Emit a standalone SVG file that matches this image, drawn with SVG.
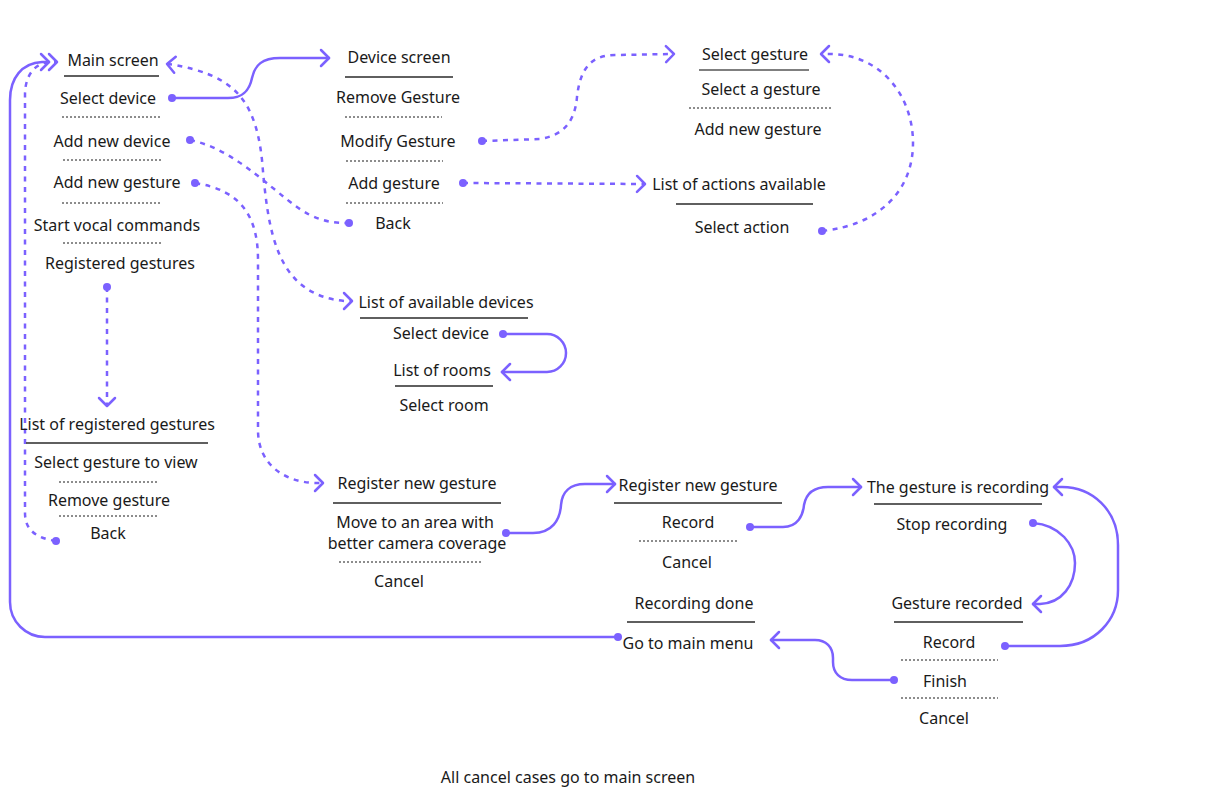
<svg xmlns="http://www.w3.org/2000/svg" width="1207" height="805" viewBox="0 0 1207 805">
<style>
  text { font-family: "Noto Sans", "Open Sans", sans-serif; font-size: 16px; fill: #1a1a1a; text-anchor: middle; }
  .hd { stroke: #2a2a2a; stroke-width: 1.5; fill: none; }
  .hdg { stroke: #555; stroke-width: 1.5; fill: none; }
  .dv { stroke: #1a1a1a; stroke-width: 1; stroke-dasharray: 2 2; fill: none; }
  .c { stroke: #7B61FF; stroke-width: 2.5; fill: none; stroke-linecap: round; stroke-linejoin: round; }
  .d { stroke-dasharray: 5 5.5; stroke-linecap: butt; }
  .s { marker-start: url(#dot); }
  .e { marker-end: url(#arr); }
  .ed { marker-end: url(#dot); }
</style>
<defs>
  <marker id="arr" viewBox="-12 -12 24 24" refX="0" refY="0" markerWidth="24" markerHeight="24" markerUnits="userSpaceOnUse" orient="auto-start-reverse">
    <path d="M-8,-8 L0,0 L-8,8" fill="none" stroke="#7B61FF" stroke-width="2.5" stroke-linecap="round" stroke-linejoin="round"/>
  </marker>
  <marker id="dot" viewBox="-5 -5 10 10" refX="0" refY="0" markerWidth="10" markerHeight="10" markerUnits="userSpaceOnUse">
    <circle cx="0" cy="0" r="4" fill="#7B61FF"/>
  </marker>
</defs>
<rect width="1207" height="805" fill="#ffffff"/>

<g id="connectors">
  <path class="c s e" d="M172,98 L228,98 C245,98 250,88 252,78 C255,65 262,58 280,58 L329,58"/>
  <path class="c d e" style="marker-start:url(#arr)" d="M167,64 L172,64.5 C230,75 255,95 262,160 C268,230 275,295 345,301 L352,301"/>
  <path class="c d s ed" d="M190,140 C240,150 280,200 310,215 C325,222 335,223 349,223"/>
  <path class="c d s e" d="M195,183 C240,190 258,215 258,260 L258,430 C258,465 285,482 315,483 L323,483"/>
  <path class="c d s e" d="M107,287 L107,406"/>
  <path class="c d s e" d="M56,541 C36,538 25,530 25,513 L25,95 C25,75 35,63 50,62 L57,62"/>
  <path class="c s e" d="M618,637 L45,637 A35,35 0 0 1 10,602 L10,100 C10,78 22,63 42,62 L49,62"/>
  <path class="c d s e" d="M482,141 L540,139 C565,135 575,120 577,97 C580,70 590,55 615,55 L674,54"/>
  <path class="c d s e" d="M463,183 L645,184"/>
  <path class="c d s e" d="M822,231 C880,225 913,190 913,143 C913,95 880,54 830,54 L821,54"/>
  <path class="c s e" d="M503,334 L547,334 A19,19 0 0 1 547,372 L502,372"/>
  <path class="c s e" d="M506,533 L533,533 C552,533 560,520 561,505 C562,492 570,484 585,484 L615,484"/>
  <path class="c s e" d="M750,527 L783,527 C798,527 803,515 804,505 C806,494 813,487 828,487 L861,487"/>
  <path class="c s e" d="M1033,523 C1060,525 1075,545 1075,563 C1075,585 1062,603 1040,604 L1033,604"/>
  <path class="c s e" d="M1005,646 L1060,646 C1095,646 1118,620 1118,590 L1118,545 C1118,510 1092,487 1062,487 L1054,487"/>
  <path class="c s e" d="M894,680 L852,680 C840,680 833,673 833,662 L833,658 C833,647 826,640 815,640 L771,640"/>
</g>

<g id="main-screen">
  <text x="113" y="66">Main screen</text>
  <line class="hd" x1="64" y1="76" x2="159" y2="76"/>
  <text x="108" y="104">Select device</text>
  <line class="dv" x1="62" y1="117" x2="160" y2="117"/>
  <text x="112" y="147">Add new device</text>
  <line class="dv" x1="63" y1="160" x2="161" y2="160"/>
  <text x="117" y="188">Add new gesture</text>
  <line class="dv" x1="62" y1="203" x2="160" y2="203"/>
  <text x="117" y="231">Start vocal commands</text>
  <line class="dv" x1="63" y1="243" x2="161" y2="243"/>
  <text x="120" y="269">Registered gestures</text>
</g>

<g id="registered-gestures">
  <text x="117" y="430">List of registered gestures</text>
  <line class="hd" x1="26" y1="443" x2="208" y2="443"/>
  <text x="116" y="468">Select gesture to view</text>
  <line class="dv" x1="59" y1="482" x2="157" y2="482"/>
  <text x="109" y="506">Remove gesture</text>
  <line class="dv" x1="59" y1="516" x2="157" y2="516"/>
  <text x="108" y="539">Back</text>
</g>

<g id="device-screen">
  <text x="399" y="63">Device screen</text>
  <line class="hd" x1="345" y1="77" x2="453" y2="77"/>
  <text x="398" y="103">Remove Gesture</text>
  <line class="dv" x1="345" y1="117" x2="442" y2="117"/>
  <text x="398" y="147">Modify Gesture</text>
  <line class="dv" x1="346" y1="161" x2="443" y2="161"/>
  <text x="394" y="189">Add gesture</text>
  <line class="dv" x1="346" y1="203" x2="443" y2="203"/>
  <text x="393" y="229">Back</text>
</g>

<g id="select-gesture">
  <text x="755" y="60">Select gesture</text>
  <line class="hdg" x1="699" y1="70" x2="809" y2="70"/>
  <text x="761" y="95">Select a gesture</text>
  <line class="dv" x1="689" y1="108" x2="831" y2="108"/>
  <text x="758" y="135">Add new gesture</text>
</g>

<g id="list-of-actions">
  <text x="739" y="190">List of actions available</text>
  <line class="hd" x1="676" y1="204" x2="813" y2="204"/>
  <text x="742" y="233">Select action</text>
</g>

<g id="list-of-devices">
  <text x="446" y="308">List of available devices</text>
  <line class="hd" x1="360" y1="318" x2="528" y2="318"/>
  <text x="441" y="339">Select device</text>
</g>

<g id="list-of-rooms">
  <text x="442" y="376">List of rooms</text>
  <line class="hd" x1="395" y1="386" x2="493" y2="386"/>
  <text x="444" y="411">Select room</text>
</g>

<g id="register-gesture-1">
  <text x="417" y="489">Register new gesture</text>
  <line class="hd" x1="333" y1="503" x2="501" y2="503"/>
  <text x="415" y="528">Move to an area with</text>
  <text x="417" y="549">better camera coverage</text>
  <line class="dv" x1="339" y1="562" x2="481" y2="562"/>
  <text x="399" y="587">Cancel</text>
</g>

<g id="register-gesture-2">
  <text x="698" y="491">Register new gesture</text>
  <line class="hd" x1="614" y1="503" x2="782" y2="503"/>
  <text x="688" y="528">Record</text>
  <line class="dv" x1="639" y1="541" x2="737" y2="541"/>
  <text x="687" y="568">Cancel</text>
</g>

<g id="recording-done">
  <text x="694" y="609">Recording done</text>
  <line class="hd" x1="627" y1="622" x2="755" y2="622"/>
  <text x="688" y="649">Go to main menu</text>
</g>

<g id="gesture-recording">
  <text x="958" y="493">The gesture is recording</text>
  <line class="hd" x1="874" y1="504" x2="1042" y2="504"/>
  <text x="952" y="530">Stop recording</text>
</g>

<g id="gesture-recorded">
  <text x="957" y="609">Gesture recorded</text>
  <line class="hd" x1="894" y1="622" x2="1023" y2="622"/>
  <text x="949" y="648">Record</text>
  <line class="dv" x1="901" y1="660" x2="998" y2="660"/>
  <text x="945" y="687">Finish</text>
  <line class="dv" x1="901" y1="698" x2="998" y2="698"/>
  <text x="944" y="724">Cancel</text>
</g>

<g id="footnote">
  <text x="568" y="783">All cancel cases go to main screen</text>
</g>
</svg>
